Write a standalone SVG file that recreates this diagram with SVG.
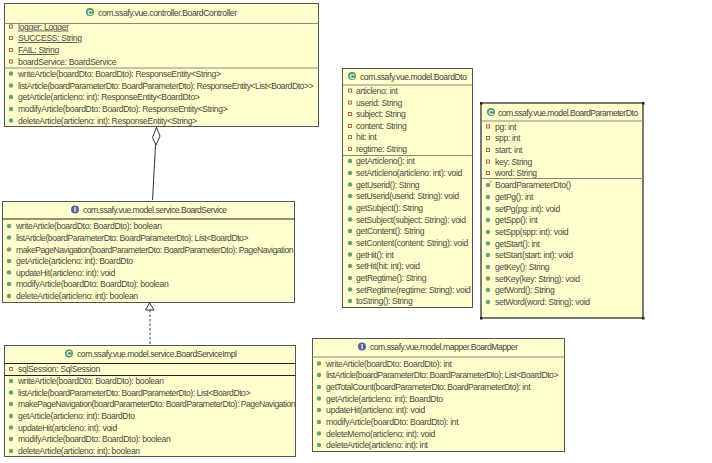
<svg xmlns="http://www.w3.org/2000/svg" width="712" height="463" viewBox="0 0 712 463">
<style>
text{font-family:"Liberation Sans",Arial,sans-serif;font-size:8.6px;letter-spacing:-0.34px;fill:#4a4a40}
.t{fill:#444;letter-spacing:0}
.p{letter-spacing:-0.45px}
.u{text-decoration:underline}
.box{fill:#ffffcd;stroke:#555;stroke-width:1}
.s{stroke:#8a8a70;stroke-width:1}
.d{stroke:#222;stroke-width:1}
.m{fill:#6a9f78}
.ic{fill:#4f9a6a}
.ii{fill:#5560a0}
.w{fill:#fff;font-size:7px;font-weight:bold;text-anchor:middle;letter-spacing:0}
.h{fill:#222}
</style>
<defs>
<circle id="m" r="2.2" class="m"/>
<rect id="f" x="-1.500" y="-1.500" width="3" height="3" fill="#fff6e0" stroke="#b06a50" stroke-width="1"/>
<g id="C"><circle r="4" class="ic"/><text class="w" y="2.500">C</text></g>
<g id="I"><circle r="4" class="ii"/><text class="w" y="2.500">I</text></g>
</defs>

<g id="connectors">
<path d="M156.500 127L152.500 200" fill="none" stroke="#333" stroke-width="1"/>
<path d="M156.500 127.500L152.500 137.500L156 145L160 136Z" fill="#fff" stroke="#333" stroke-width="1"/>
<path d="M150 310V351" fill="none" stroke="#444" stroke-width="1" stroke-dasharray="2.500 2"/>
<path d="M149.500 303L145.500 310H154Z" fill="#fff" stroke="#333" stroke-width="1"/>
</g>

<g id="BoardController">
<rect class="box" x="4.500" y="3.500" width="314" height="123"/>
<line class="s" x1="4.500" y1="23.500" x2="318.500" y2="23.500"/>
<line class="s" x1="4.500" y1="68" x2="318.500" y2="68"/>
<use href="#C" x="90" y="12"/>
<text class="t" x="98" y="15.500" textLength="139">com.ssafy.vue.controller.BoardController</text>
<use href="#f" x="11" y="26.500"/><text class="u" x="18" y="29.500">logger: Logger</text>
<use href="#f" x="11" y="38"/><text class="u" x="18" y="41">SUCCESS: String</text>
<use href="#f" x="11" y="50"/><text class="u" x="18" y="53">FAIL: String</text>
<use href="#f" x="11" y="61.500"/><text x="18" y="64.500">boardService: BoardService</text>
<use href="#m" x="11" y="73.500"/><text x="18" y="76.500">writeArticle(boardDto: BoardDto): ResponseEntity&lt;String&gt;</text>
<use href="#m" x="11" y="85.500"/><text class="p" x="18" y="88.500">listArticle(boardParameterDto: BoardParameterDto): ResponseEntity&lt;List&lt;BoardDto&gt;&gt;</text>
<use href="#m" x="11" y="97"/><text x="18" y="100">getArticle(articleno: int): ResponseEntity&lt;BoardDto&gt;</text>
<use href="#m" x="11" y="109"/><text x="18" y="112">modifyArticle(boardDto: BoardDto): ResponseEntity&lt;String&gt;</text>
<use href="#m" x="11" y="120.500"/><text x="18" y="123.500">deleteArticle(articleno: int): ResponseEntity&lt;String&gt;</text>
</g>

<g id="BoardService">
<rect class="box" x="2.500" y="201.500" width="292" height="101"/>
<line class="d" x1="2.500" y1="219" x2="294.500" y2="219" stroke-width="1.400"/>
<use href="#I" x="75" y="209.500"/>
<text class="t" x="83" y="213" textLength="144">com.ssafy.vue.model.service.BoardService</text>
<use href="#m" x="9" y="226"/><text x="16" y="229">writeArticle(boardDto: BoardDto): boolean</text>
<use href="#m" x="9" y="237.500"/><text class="p" x="16" y="240.500">listArticle(boardParameterDto: BoardParameterDto): List&lt;BoardDto&gt;</text>
<use href="#m" x="9" y="249.500"/><text class="p" x="16" y="252.500">makePageNavigation(boardParameterDto: BoardParameterDto): PageNavigation</text>
<use href="#m" x="9" y="261"/><text x="16" y="264">getArticle(articleno: int): BoardDto</text>
<use href="#m" x="9" y="272.500"/><text x="16" y="275.500">updateHit(articleno: int): void</text>
<use href="#m" x="9" y="284"/><text x="16" y="287">modifyArticle(boardDto: BoardDto): boolean</text>
<use href="#m" x="9" y="296"/><text x="16" y="299">deleteArticle(articleno: int): boolean</text>
</g>

<g id="BoardServiceImpl">
<rect class="box" x="4.500" y="345.500" width="291" height="111"/>
<line class="d" x1="4.500" y1="363.500" x2="295.500" y2="363.500"/>
<line class="d" x1="4.500" y1="375.500" x2="295.500" y2="375.500"/>
<use href="#C" x="69" y="353.500"/>
<text class="t" x="77" y="357" textLength="160">com.ssafy.vue.model.service.BoardServiceImpl</text>
<use href="#f" x="11" y="369"/><text x="18" y="372">sqlSession: SqlSession</text>
<use href="#m" x="11" y="381"/><text x="18" y="384">writeArticle(boardDto: BoardDto): boolean</text>
<use href="#m" x="11" y="392.500"/><text class="p" x="18" y="395.500">listArticle(boardParameterDto: BoardParameterDto): List&lt;BoardDto&gt;</text>
<use href="#m" x="11" y="404"/><text class="p" x="18" y="407">makePageNavigation(boardParameterDto: BoardParameterDto): PageNavigation</text>
<use href="#m" x="11" y="416"/><text x="18" y="419">getArticle(articleno: int): BoardDto</text>
<use href="#m" x="11" y="427.500"/><text x="18" y="430.500">updateHit(articleno: int): void</text>
<use href="#m" x="11" y="439"/><text x="18" y="442">modifyArticle(boardDto: BoardDto): boolean</text>
<use href="#m" x="11" y="451"/><text x="18" y="454">deleteArticle(articleno: int): boolean</text>
</g>

<g id="BoardMapper">
<rect class="box" x="312.500" y="338.500" width="252" height="113"/>
<line class="s" x1="312.500" y1="357" x2="564.500" y2="357"/>
<use href="#I" x="362" y="346.500"/>
<text class="t" x="370" y="350" textLength="148">com.ssafy.vue.model.mapper.BoardMapper</text>
<use href="#m" x="319" y="363.500"/><text x="326" y="366.500">writeArticle(boardDto: BoardDto): int</text>
<use href="#m" x="319" y="375"/><text class="p" x="326" y="378">listArticle(boardParameterDto: BoardParameterDto): List&lt;BoardDto&gt;</text>
<use href="#m" x="319" y="387"/><text class="p" x="326" y="390">getTotalCount(boardParameterDto: BoardParameterDto): int</text>
<use href="#m" x="319" y="398.500"/><text x="326" y="401.500">getArticle(articleno: int): BoardDto</text>
<use href="#m" x="319" y="410"/><text x="326" y="413">updateHit(articleno: int): void</text>
<use href="#m" x="319" y="422"/><text x="326" y="425">modifyArticle(boardDto: BoardDto): int</text>
<use href="#m" x="319" y="433.500"/><text x="326" y="436.500">deleteMemo(articleno: int): void</text>
<use href="#m" x="319" y="445"/><text x="326" y="448">deleteArticle(articleno: int): int</text>
</g>

<g id="BoardDto">
<rect class="box" x="342.500" y="68.500" width="130" height="239"/>
<line class="s" x1="342.500" y1="85" x2="472.500" y2="85"/>
<line class="s" x1="342.500" y1="155.500" x2="472.500" y2="155.500"/>
<use href="#C" x="352" y="76"/>
<text class="t" x="360" y="80" textLength="107">com.ssafy.vue.model.BoardDto</text>
<use href="#f" x="350" y="90.500"/><text x="356" y="93.500">articleno: int</text>
<use href="#f" x="350" y="102.500"/><text x="356" y="105.500">userid: String</text>
<use href="#f" x="350" y="114"/><text x="356" y="117">subject: String</text>
<use href="#f" x="350" y="126"/><text x="356" y="129">content: String</text>
<use href="#f" x="350" y="137"/><text x="356" y="140">hit: int</text>
<use href="#f" x="350" y="149"/><text x="356" y="152">regtime: String</text>
<use href="#m" x="350" y="161"/><text x="356" y="164">getArticleno(): int</text>
<use href="#m" x="350" y="173"/><text x="356" y="176">setArticleno(articleno: int): void</text>
<use href="#m" x="350" y="184.500"/><text x="356" y="187.500">getUserid(): String</text>
<use href="#m" x="350" y="196"/><text x="356" y="199">setUserid(userid: String): void</text>
<use href="#m" x="350" y="208"/><text x="356" y="211">getSubject(): String</text>
<use href="#m" x="350" y="219.500"/><text x="356" y="222.500">setSubject(subject: String): void</text>
<use href="#m" x="350" y="231"/><text x="356" y="234">getContent(): String</text>
<use href="#m" x="350" y="243"/><text x="356" y="246">setContent(content: String): void</text>
<use href="#m" x="350" y="254.500"/><text x="356" y="257.500">getHit(): int</text>
<use href="#m" x="350" y="266"/><text x="356" y="269">setHit(hit: int): void</text>
<use href="#m" x="350" y="278"/><text x="356" y="281">getRegtime(): String</text>
<use href="#m" x="350" y="289.500"/><text x="356" y="292.500">setRegtime(regtime: String): void</text>
<use href="#m" x="350" y="301"/><text x="356" y="304">toString(): String</text>
</g>

<g id="BoardParameterDto">
<rect x="481" y="103" width="162" height="215" fill="#ffffcd" stroke="#222" stroke-width="1.200"/>
<line class="s" x1="481" y1="121" x2="643" y2="121"/>
<line class="s" x1="481" y1="178.500" x2="643" y2="178.500"/>
<rect class="h" x="480" y="102" width="2.500" height="2.500"/><rect class="h" x="642" y="102" width="2.500" height="2.500"/><rect class="h" x="480" y="317" width="2.500" height="2.500"/><rect class="h" x="642" y="317" width="2.500" height="2.500"/>
<use href="#C" x="491" y="112"/>
<text class="t" x="498" y="115.500" textLength="140">com.ssafy.vue.model.BoardParameterDto</text>
<use href="#f" x="488" y="126.500"/><text x="495" y="129.500">pg: int</text>
<use href="#f" x="488" y="138"/><text x="495" y="141">spp: int</text>
<use href="#f" x="488" y="150"/><text x="495" y="153">start: int</text>
<use href="#f" x="488" y="161.500"/><text x="495" y="164.500">key: String</text>
<use href="#f" x="488" y="173"/><text x="495" y="176">word: String</text>
<use href="#m" x="488" y="185"/><path d="M489.500 181.500l1.500-.5-.8 2.500" fill="none" stroke="#c9a030" stroke-width=".8"/><text x="495" y="188">BoardParameterDto()</text>
<use href="#m" x="488" y="197"/><text x="495" y="200">getPg(): int</text>
<use href="#m" x="488" y="208.500"/><text x="495" y="211.500">setPg(pg: int): void</text>
<use href="#m" x="488" y="220"/><text x="495" y="223">getSpp(): int</text>
<use href="#m" x="488" y="232"/><text x="495" y="235">setSpp(spp: int): void</text>
<use href="#m" x="488" y="243.500"/><text x="495" y="246.500">getStart(): int</text>
<use href="#m" x="488" y="255"/><text x="495" y="258">setStart(start: int): void</text>
<use href="#m" x="488" y="267"/><text x="495" y="270">getKey(): String</text>
<use href="#m" x="488" y="278.500"/><text x="495" y="281.500">setKey(key: String): void</text>
<use href="#m" x="488" y="290"/><text x="495" y="293">getWord(): String</text>
<use href="#m" x="488" y="302"/><text x="495" y="305">setWord(word: String): void</text>
</g>
</svg>
